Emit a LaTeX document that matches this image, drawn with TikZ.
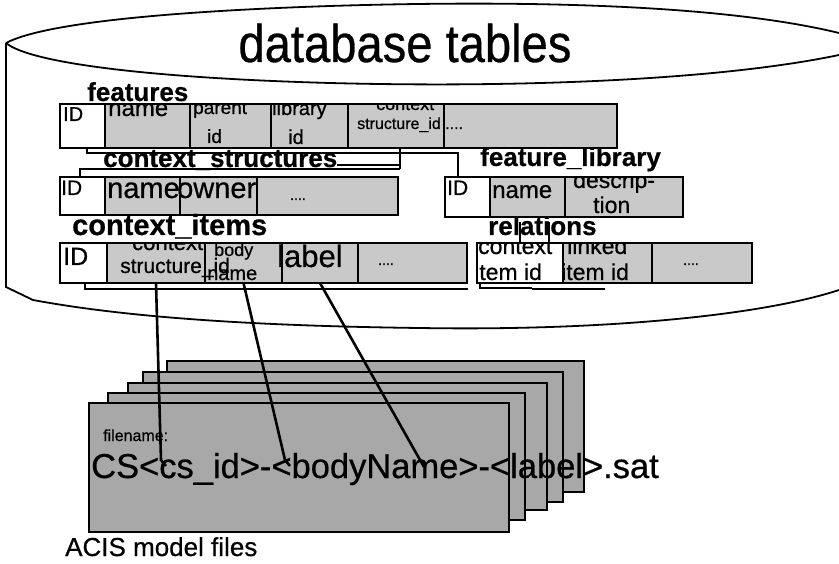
\documentclass[tikz,border=0pt]{standalone}
\usepackage{fontspec}
\setmainfont{Liberation Sans}[FakeBold=0.6]
\newcommand\fsz[1]{\fontsize{#1}{#1}\selectfont}
\definecolor{cellgray}{gray}{0.79}
\definecolor{sheetgray}{gray}{0.66}
\begin{document}
\begin{tikzpicture}[x=1pt,y=-1pt,
  cell/.style={draw, line width=2pt, fill=cellgray, anchor=north west, inner sep=0pt, outer sep=0pt},
  wcell/.style={cell, fill=white},
  sheet/.style={draw, line width=2.2pt, fill=sheetgray, anchor=north west, inner sep=0pt, outer sep=0pt},
  conn/.style={line width=2.6pt},
  link/.style={line width=1.7pt},
  cyl/.style={line width=1.8pt},
  lbl/.style={anchor=base west, inner sep=0pt, font=\bfseries},
  txt/.style={anchor=base west, inner sep=0pt},
]
\useasboundingbox (0,0) rectangle (839,564);

% ---------- cylinder ----------
\draw[cyl] (6,43) -- (6,287) -- (33,300) .. controls (130,318) and (260,326) .. (420,328)
      .. controls (600,331) and (760,316) .. (839,290);
\draw[cyl] (6,43) .. controls (40,25) and (150,12) .. (330,6) .. controls (520,0) and (720,4) .. (839,33);
\draw[cyl] (6,43) .. controls (30,63) and (150,78) .. (330,83) .. controls (520,88) and (720,80) .. (839,55);
\node[anchor=base, inner sep=0pt] (title) at (405,62) {\fsz{53}\scalebox{0.89}[1]{database tables}};

% ---------- features ----------
\node[wcell, minimum width=45pt,  minimum height=44pt] (f1) at (60,104) {};
\node[cell,  minimum width=85pt,  minimum height=44pt] (f2) at (105,104) {};
\node[cell,  minimum width=81pt,  minimum height=44pt] (f3) at (190,104) {};
\node[cell,  minimum width=77pt,  minimum height=44pt] (f4) at (271,104) {};
\node[cell,  minimum width=96pt,  minimum height=44pt] (f5) at (348,104) {};
\node[cell,  minimum width=173pt, minimum height=44pt] (f6) at (444,104) {};
\begin{scope}
  \clip (f1.north west) rectangle (f6.south east);
  \node[txt] (f1t) at (63,121) {\fsz{20}ID};
  \node[txt] (f2t) at (108,116) {\fsz{24}name};
  \node[txt] (f3a) at (193,114) {\fsz{19}parent};
  \node[txt] (f3b) at (207,143) {\fsz{19}id};
  \node[txt] (f4a) at (272,115) {\fsz{20}library};
  \node[txt] (f4b) at (288,144) {\fsz{20}id};
  \node[txt] (f5a) at (376,110) {\fsz{18}context};
  \node[txt] (f5b) at (357,129) {\fsz{16}structure\_id ....};
\end{scope}
\node[lbl] (flbl) at (87,101) {\fsz{26}features};

% ---------- links between tables ----------
\coordinate (k0) at (87,148);
\coordinate (k1) at (87,153);
\coordinate (k2) at (458,153);
\coordinate (k3) at (458,177);
\coordinate (m0) at (400,148);
\coordinate (m1) at (400,169);
\coordinate (m2) at (337,165);
\coordinate (m3) at (400,165);
\coordinate (m4) at (80,169);
\coordinate (m5) at (80,177);
\draw[link] (k0) -- (k1) -- (k2) -- (k3);
\draw[link] (m0) -- (m1);
\draw[link] (m2) -- (m3);
\draw[link] (m5) -- (m4) -- (m1);

% ---------- context_structures ----------
\node[wcell, minimum width=45pt,  minimum height=38pt] (c1) at (60,177) {};
\node[cell,  minimum width=75pt,  minimum height=38pt] (c2) at (105,177) {};
\node[cell,  minimum width=77pt,  minimum height=38pt] (c3) at (180,177) {};
\node[cell,  minimum width=141pt, minimum height=38pt] (c4) at (257,177) {};
\begin{scope}
  \clip (c1.north west) rectangle (c4.south east);
  \node[txt] (c1t) at (61,195) {\fsz{21}ID};
  \node[txt] (c2t) at (107,198) {\fsz{29}name};
  \node[txt] (c3t) at (177,198) {\fsz{29}owner};
  \node[txt] (c4t) at (290,200) {\fsz{14}....};
\end{scope}
\node[lbl] (clbl) at (103,167) {\fsz{26}context\_structures};

% ---------- feature_library ----------
\node[wcell, minimum width=45pt,  minimum height=40pt] (l1) at (445,177) {};
\node[cell,  minimum width=75pt,  minimum height=40pt] (l2) at (490,177) {};
\node[cell,  minimum width=118pt, minimum height=40pt] (l3) at (565,177) {};
\begin{scope}
  \clip (l1.north west) rectangle (l3.south east);
  \node[txt] (l1t) at (447,195) {\fsz{21}ID};
  \node[txt] (l2t) at (492,198) {\fsz{24}name};
  \node[txt] (l3a) at (573,188) {\fsz{23}descrip-};
  \node[txt] (l3b) at (593,213) {\fsz{23}tion};
\end{scope}
\node[lbl] (llbl) at (480,166) {\fsz{26}feature\_library};

% ---------- context_items ----------
\node[wcell, minimum width=47pt,  minimum height=40pt] (i1) at (60,243) {};
\node[cell,  minimum width=98pt,  minimum height=40pt] (i2) at (107,243) {};
\node[cell,  minimum width=77pt,  minimum height=40pt] (i3) at (205,243) {};
\node[cell,  minimum width=76pt,  minimum height=40pt] (i4) at (282,243) {};
\node[cell,  minimum width=109pt, minimum height=40pt] (i5) at (358,243) {};
\begin{scope}
  \clip (i1.north west) rectangle (i5.south east);
  \node[txt] (i1t) at (63,265) {\fsz{25}ID};
  \node[txt] (i2a) at (132,250) {\fsz{22}context};
  \node[txt] (i2b) at (120,273) {\fsz{21}structure\_id};
  \node[txt] (i3a) at (214,256) {\fsz{18}body};
  \node[txt] (i3b) at (207,280) {\fsz{20}name};
  \node[txt] (i4t) at (277,267) {\fsz{31}label};
  \node[txt] (i5t) at (378,265) {\fsz{14}....};
\end{scope}
\node[lbl] (ilbl) at (72,235) {\fsz{29}context\_items};
\coordinate (n0) at (85,283);
\coordinate (n1) at (85,289);
\coordinate (n2) at (468,289);
\draw[link] (n0) -- (n1) -- (n2);

% ---------- relations ----------
\coordinate (v1) at (520,222); \coordinate (v2) at (520,243);
\coordinate (v3) at (549,222); \coordinate (v4) at (549,243);
\draw[link] (v1) -- (v2);
\draw[link] (v3) -- (v4);
\node[wcell, minimum width=86pt,  minimum height=40pt] (r1) at (477,243) {};
\node[cell,  minimum width=89pt,  minimum height=40pt] (r2) at (563,243) {};
\node[cell,  minimum width=100pt, minimum height=40pt] (r3) at (652,243) {};
\begin{scope}
  \clip (r1.north west) rectangle (r3.south east);
  \node[txt] (r1a) at (478,254) {\fsz{23}context};
  \node[txt] (r1b) at (474,280) {\fsz{23}item id};
  \node[txt] (r2a) at (567,254) {\fsz{23}linked};
  \node[txt] (r2b) at (561,280) {\fsz{23}item id};
  \node[txt] (r3t) at (683,265) {\fsz{14}....};
\end{scope}
\node[lbl] (rlbl) at (488,235) {\fsz{26}relations};
\coordinate (p0) at (480,283); \coordinate (p1) at (480,288);
\coordinate (p2) at (532,288); \coordinate (p3) at (532,289); \coordinate (p4) at (605,289);
\draw[line width=1.2pt] (p0) -- (p1) -- (p2);
\draw[line width=2.8pt] (p3) -- (p4);

% ---------- ACIS model files ----------
\node[sheet, minimum width=417pt, minimum height=131pt] (s5) at (167,361) {};
\node[sheet, minimum width=420pt, minimum height=130pt] (s4) at (143,372) {};
\node[sheet, minimum width=419pt, minimum height=127pt] (s3) at (128,383) {};
\node[sheet, minimum width=417pt, minimum height=127pt] (s2) at (108,393) {};
\node[sheet, minimum width=420pt, minimum height=129pt] (s1) at (89,403) {};
\node[txt] (fnl) at (103,441) {\fsz{16}filename:};
\node[txt] (fn) at (91,478) {\fsz{34.5}CS<cs\_id>-<bodyName>-<label>.sat};
\node[txt] (acis) at (65,556) {\fsz{26}ACIS model files};

% ---------- connectors to file name ----------
\coordinate (a1) at (161,460); \coordinate (b1) at (166,466);
\coordinate (a2) at (285,460); \coordinate (b2) at (290,466);
\coordinate (a3) at (424,467);
\draw[conn] (i2.south) -- (a1) -- (b1);
\draw[conn] (i3.south) -- (a2) -- (b2);
\draw[conn] (i4.south) -- (a3);
\end{tikzpicture}
\end{document}
